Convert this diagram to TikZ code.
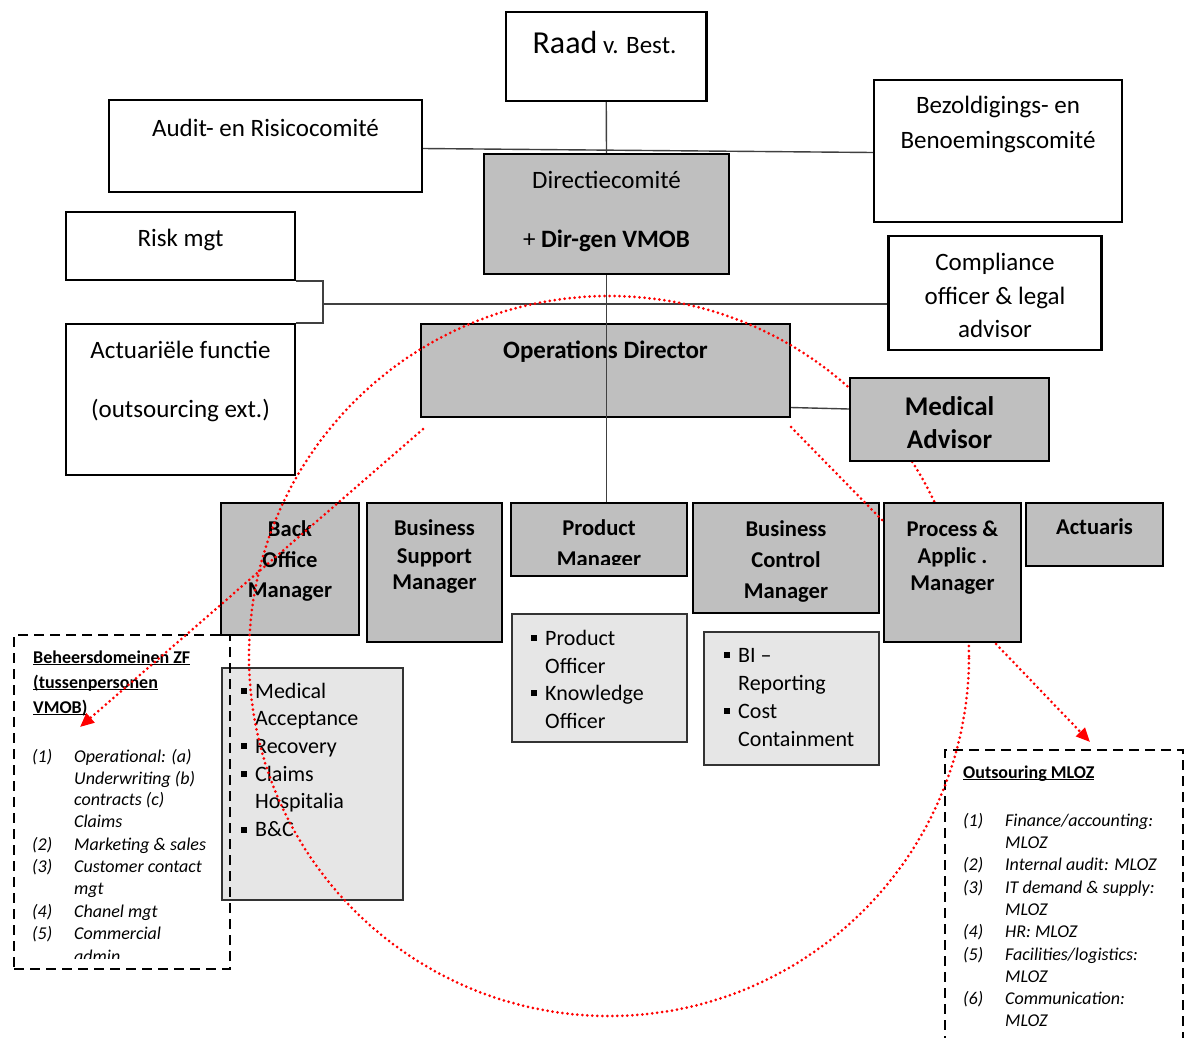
\documentclass[tikz,border=0pt]{standalone}
\usepackage{fontspec}
\setmainfont{Carlito}
\usetikzlibrary{fit,arrows.meta}
\definecolor{boxgray}{HTML}{BFBFBF}
\definecolor{listgray}{HTML}{E6E6E6}
\definecolor{dotred}{HTML}{FF0000}
\newcommand\fs[1]{\fontsize{#1}{#1}\selectfont}
\newcommand\bul{\llap{\rule[4pt]{6pt}{6pt}\hspace{8pt}}}
\newcommand\num[1]{\llap{\makebox[42pt][l]{#1}}}
\newcommand\ulx[1]{\setbox0\hbox{#1}\rlap{\rule[-2.3pt]{\wd0}{1.2pt}}\box0}
\begin{document}
\begin{tikzpicture}[x=1pt,y=-1pt,
 wbox/.style={draw=black,line width=2.2pt,fill=white,inner sep=0pt},
 gbox/.style={wbox,fill=boxgray},
 lbox/.style={draw=black!80,line width=1.3pt,fill=listgray,inner sep=0pt},
 dbox/.style={draw=black,line width=2.2pt,dash pattern=on 10pt off 6pt,inner sep=0pt},
 conn/.style={draw=black!75,line width=1.4pt},
 reddot/.style={draw=dotred,line width=3pt,line cap=round,dash pattern=on 0pt off 5pt},
 redarrow/.style={reddot,-{Triangle[length=14pt,width=12pt,fill=dotred,color=dotred]}},
 t25/.style={anchor=base,inner sep=0pt,font=\fs{25}},
 tb25/.style={anchor=base,inner sep=0pt,font=\fs{25}\bfseries},
 tb27/.style={anchor=base,inner sep=0pt,font=\fs{27}\bfseries},
 tb22/.style={anchor=base,inner sep=0pt,font=\fs{22.6}\bfseries},
 tl22/.style={anchor=base west,inner sep=0pt,font=\fs{22}},
 th18/.style={anchor=base west,inner sep=0pt,font=\fs{18}\bfseries},
 ti18/.style={anchor=base west,inner sep=0pt,font=\fs{18}\itshape},
]
\fill[white] (0,0) rectangle (1186,1037);
\useasboundingbox (0,0) rectangle (1186,1037);

% white boxes
\node[wbox,fit={(506,12) (706.5,101)}] (raad) {};
\node[t25] (raadT) at (604.5,53) {{\fs{32}Raad} v. Best.};
\node[wbox,fit={(109,100) (422,192)}] (audit) {};
\node[t25] (auditT) at (265.5,136) {Audit- en Risicocomité};
\node[wbox,fit={(874,80) (1122,222)}] (bez) {};
\node[t25] (bezT1) at (998,113) {Bezoldigings- en};
\node[t25] (bezT2) at (998,148) {Benoemingscomité};
\node[wbox,fit={(66,212) (295,280)}] (risk) {};
\node[t25] (riskT) at (180.5,246) {Risk mgt};
\node[wbox,fit={(66,324) (295,475)}] (act) {};
\node[t25] (actT1) at (180.5,358) {Actuariële functie};
\node[t25] (actT2) at (180.5,417) {(outsourcing ext.)};
\node[wbox,fit={(888.5,236) (1101.5,350)}] (comp) {};
\node[t25] (compT1) at (995,270) {Compliance};
\node[t25] (compT2) at (995,304) {officer \& legal};
\node[t25] (compT3) at (995,337) {advisor};

% gray boxes
\node[gbox,fit={(484,154) (729,274)}] (dir) {};
\node[t25] (dirT1) at (606.5,188) {Directiecomité};
\node[t25] (dirT2) at (606.5,247) {+ \textbf{Dir-gen VMOB}};
\node[gbox,fit={(421,324) (790,417)}] (ops) {};
\node[tb25] (opsT) at (605.5,358) {Operations Director};
\node[gbox,fit={(221,503) (359,635)}] (bo) {};
\node[tb22] (boT1) at (290,536) {Back};
\node[tb22] (boT2) at (290,567) {Office};
\node[tb22] (boT3) at (290,597) {Manager};
\node[gbox,fit={(367,503) (502,642)}] (bs) {};
\node[tb22] (bsT1) at (434.5,535) {Business};
\node[tb22] (bsT2) at (434.5,563) {Support};
\node[tb22] (bsT3) at (434.5,589) {Manager};
\node[gbox,fit={(511,503) (687,576)}] (pm) {};
\node[tb22] (pmT1) at (599,535) {Product};
\begin{scope}
\clip (511,540) rectangle (687,564);
\node[tb22] (pmT2) at (599,566) {Manager};
\end{scope}
\node[gbox,fit={(693,503) (879,613)}] (bc) {};
\node[tb22] (bcT1) at (786,536) {Business};
\node[tb22] (bcT2) at (786,567) {Control};
\node[tb22] (bcT3) at (786,598) {Manager};
\node[gbox,fit={(1026,503) (1163,566)}] (actu) {};
\node[tb22] (actuT) at (1094.5,534) {Actuaris};

% list boxes
\node[lbox,fit={(222,668) (403,900)}] (bol) {};
\node[tl22] (bolT1) at (255,698) {\bul Medical};
\node[tl22] (bolT2) at (255,725.7) {Acceptance};
\node[tl22] (bolT3) at (255,753.4) {\bul Recovery};
\node[tl22] (bolT4) at (255,781.1) {\bul Claims};
\node[tl22] (bolT5) at (255,808.8) {Hospitalia};
\node[tl22] (bolT6) at (255,836.5) {\bul B\&C};
\node[lbox,fit={(512,614) (687,742)}] (pml) {};
\node[tl22] (pmlT1) at (545,645) {\bul Product};
\node[tl22] (pmlT2) at (545,673) {Officer};
\node[tl22] (pmlT3) at (545,700) {\bul Knowledge};
\node[tl22] (pmlT4) at (545,728) {Officer};
\node[lbox,fit={(704,632) (879,765)}] (bcl) {};
\node[tl22] (bclT1) at (738,662) {\bul BI –};
\node[tl22] (bclT2) at (738,690) {Reporting};
\node[tl22] (bclT3) at (738,718) {\bul Cost};
\node[tl22] (bclT4) at (738,746) {Containment};

% gray connectors
\draw[conn] (raad.south) -- (dir.north);
\draw[conn] (dir.south) -- (dir.south |- pm.north);
\draw[conn] ([yshift=-2.5pt]audit.east) -- ([yshift=-1.5pt]bez.west);
\coordinate (brk) at (323,304);
\draw[conn] (risk.south east) -| (brk) |- (act.north east);
\draw[conn] (brk) -- (brk -| comp.west);

% dashed boxes
\node[dbox,fit={(14,635) (230,969)}] (zf) {};
\node[th18] (zfH1) at (33,663) {\ulx{Beheersdomeinen ZF}};
\node[th18] (zfH2) at (33,688) {\ulx{(tussenpersonen}};
\node[th18] (zfH3) at (33,713) {\ulx{VMOB)}};
\node[ti18] (zf1) at (74,762) {\num{(1)}Operational: (a)};
\node[ti18] (zf1b) at (74,784) {Underwriting (b)};
\node[ti18] (zf1c) at (74,805.5) {contracts (c)};
\node[ti18] (zf1d) at (74,827.5) {Claims};
\node[ti18] (zf2) at (74,850) {\num{(2)}Marketing \& sales};
\node[ti18] (zf3) at (74,872.5) {\num{(3)}Customer contact};
\node[ti18] (zf3b) at (74,894.5) {mgt};
\node[ti18] (zf4) at (74,917) {\num{(4)}Chanel mgt};
\node[ti18] (zf5) at (74,939.5) {\num{(5)}Commercial};
\begin{scope}
\clip (20,945) rectangle (228,958.5);
\node[ti18] (zf5b) at (74,962) {admin};
\end{scope}

\node[dbox,fit={(945,750) (1183,1060)}] (mloz) {};
\node[th18] (mlozH) at (963,778) {\ulx{Outsouring MLOZ}};
\node[ti18] (ml1) at (1005,826) {\num{(1)}Finance/accounting:};
\node[ti18] (ml1b) at (1005,848.5) {MLOZ};
\node[ti18] (ml2) at (1005,870.5) {\num{(2)}Internal audit: MLOZ};
\node[ti18] (ml3) at (1005,893) {\num{(3)}IT demand \& supply:};
\node[ti18] (ml3b) at (1005,915) {MLOZ};
\node[ti18] (ml4) at (1005,937.5) {\num{(4)}HR: MLOZ};
\node[ti18] (ml5) at (1005,960) {\num{(5)}Facilities/logistics:};
\node[ti18] (ml5b) at (1005,982) {MLOZ};
\node[ti18] (ml6) at (1005,1004) {\num{(6)}Communication:};
\node[ti18] (ml6b) at (1005,1026) {MLOZ};

% red dotted circle
\coordinate (cc) at (609,656);
\draw[reddot] (cc) circle [radius=360pt];

% boxes above the circle
\node[gbox,fit={(850,378) (1049,461)}] (med) {};
\node[tb27] (medT1) at (949.5,415) {Medical};
\node[tb27] (medT2) at (949.5,448) {Advisor};
\node[gbox,fit={(884,503) (1021,642)}] (proc) {};
\node[tb22] (procT1) at (952.5,536) {Process \&};
\node[tb22] (procT2) at (952.5,563) {Applic .};
\node[tb22] (procT3) at (952.5,590) {Manager};

\draw[conn] ([yshift=-37pt]ops.east) -- ([yshift=10.5pt]med.west);

% red dotted connectors
\coordinate (arrL) at (80,727);
\coordinate (arrR) at (1090,742);
\draw[redarrow] ([xshift=3pt,yshift=-11pt]ops.south west) -- (arrL);
\draw[reddot] ([yshift=-9pt]ops.south east) -- ([yshift=-19pt]proc.north west);
\draw[redarrow] ([xshift=-26pt,yshift=-1pt]proc.south east) -- (arrR);
\end{tikzpicture}
\end{document}
